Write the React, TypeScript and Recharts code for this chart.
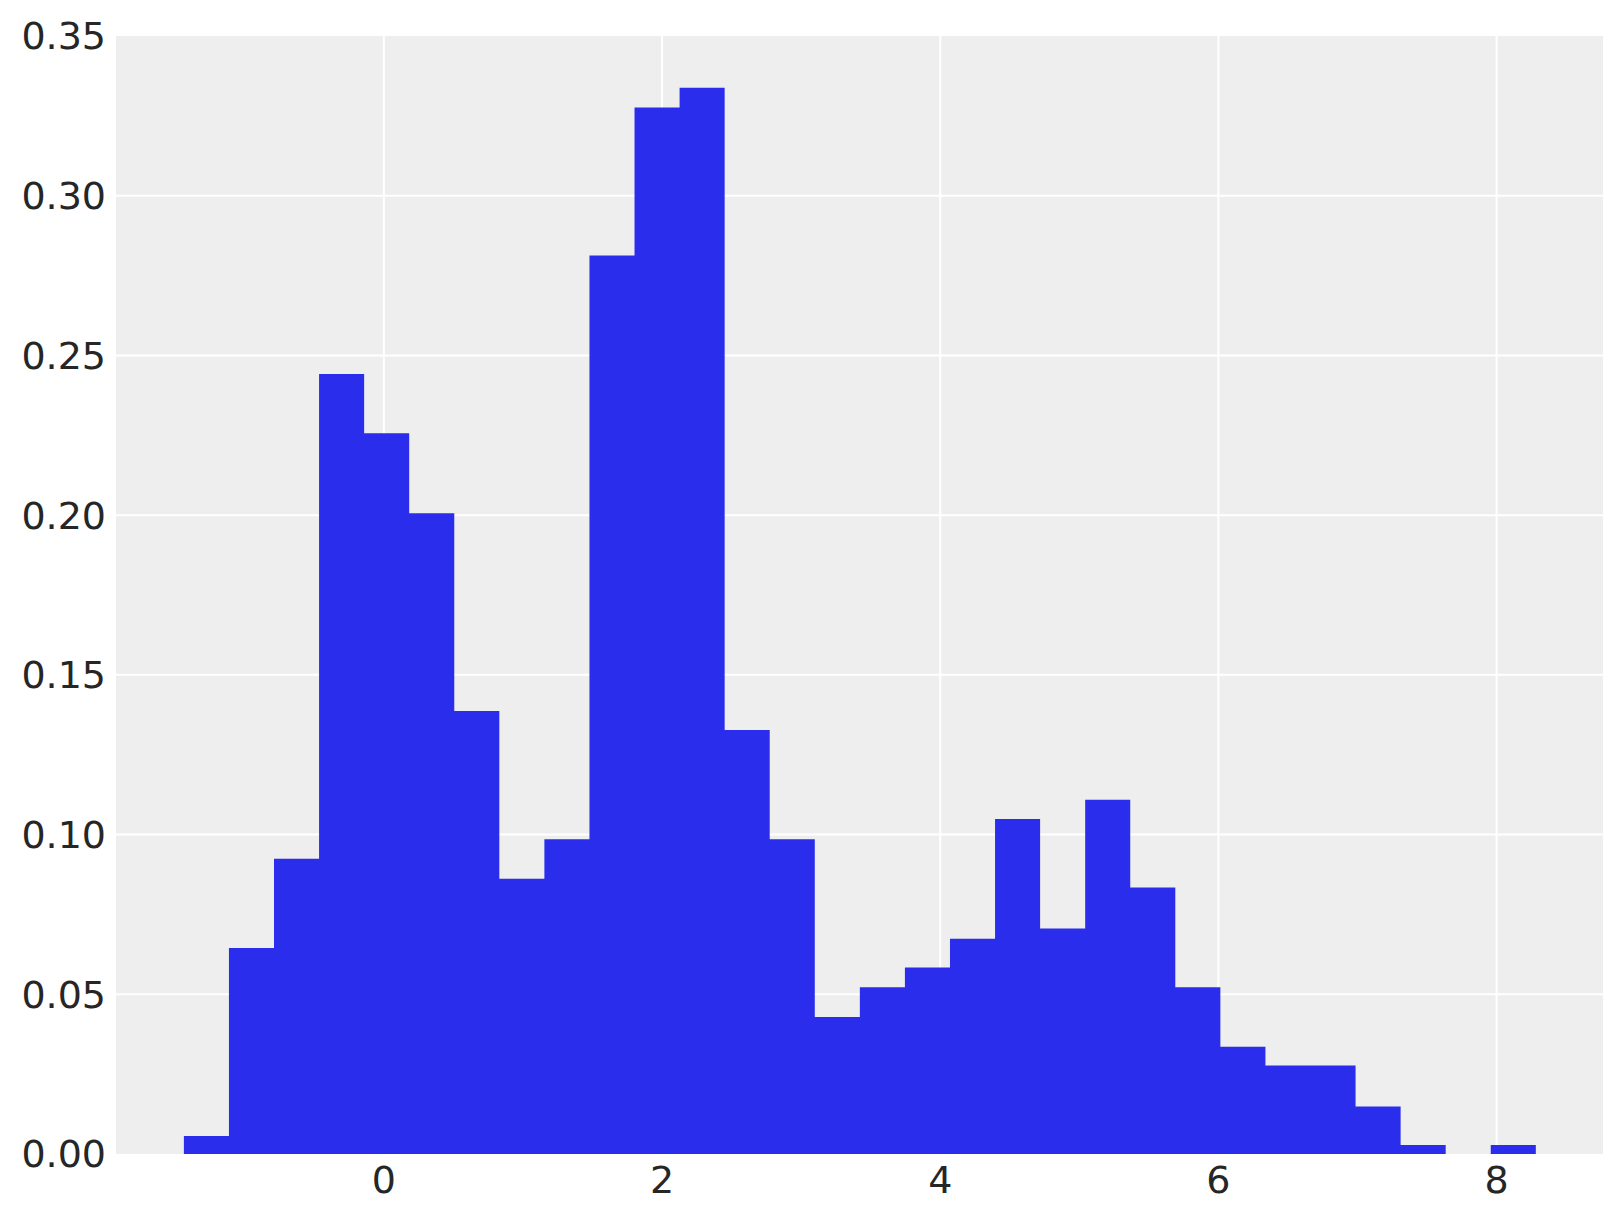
import React from "react";
import { ComposedChart, Area, XAxis, YAxis, CartesianGrid } from "recharts";

// Histogram bin edges (31 edges -> 30 bins)
const binEdges = [
  -1.438, -1.114, -0.79, -0.466, -0.142, 0.182, 0.506, 0.83, 1.154, 1.478,
  1.802, 2.126, 2.45, 2.774, 3.098, 3.422, 3.746, 4.07, 4.394, 4.718,
  5.042, 5.366, 5.69, 6.014, 6.338, 6.662, 6.986, 7.31, 7.634, 7.958, 8.282,
];

// Density of each bin
const densities = [
  0.0056, 0.0645, 0.0924, 0.2442, 0.2256, 0.2006, 0.1387, 0.0862, 0.0985, 0.2813,
  0.3276, 0.3338, 0.1327, 0.0985, 0.0429, 0.0522, 0.0584, 0.0674, 0.1049, 0.0706,
  0.1109, 0.0834, 0.0522, 0.0336, 0.0277, 0.0277, 0.0149, 0.0028, 0, 0.0028,
];

const xTicks = [0, 2, 4, 6, 8];
const yTicks = [0, 0.05, 0.1, 0.15, 0.2, 0.25, 0.3, 0.35];
const gridY = [0.05, 0.1, 0.15, 0.2, 0.25, 0.3];

const data = binEdges.map((x, i) => ({
  x,
  y: i < densities.length ? densities[i] : densities[densities.length - 1],
}));

const tickStyle = { fontFamily: "DejaVu Sans", fontSize: 38, fill: "#262626" };

export default function App() {
  return (
    <ComposedChart
      width={1615}
      height={1215}
      data={data}
      margin={{ top: 28, right: 20, bottom: 0, left: 0 }}
    >
      <CartesianGrid
        fill="#eeeeee"
        stroke="#ffffff"
        strokeWidth={2}
        horizontalValues={gridY}
        verticalValues={xTicks}
      />
      <XAxis
        dataKey="x"
        type="number"
        domain={[-1.926, 8.765]}
        ticks={xTicks}
        allowDataOverflow
        axisLine={false}
        tickLine={false}
        tickSize={0}
        tickMargin={12}
        height={69}
        tick={tickStyle}
        interval={0}
      />
      <YAxis
        type="number"
        domain={[0, 0.35]}
        ticks={yTicks}
        allowDataOverflow
        axisLine={false}
        tickLine={false}
        tickSize={0}
        tickMargin={10}
        width={108}
        tick={tickStyle}
        interval={0}
        tickFormatter={(v: number) => v.toFixed(2)}
      />
      <Area
        dataKey="y"
        type="stepAfter"
        fill="#2a2eec"
        fillOpacity={1}
        stroke="none"
        baseValue={0}
        isAnimationActive={false}
        dot={false}
        activeDot={false}
      />
    </ComposedChart>
  );
}
